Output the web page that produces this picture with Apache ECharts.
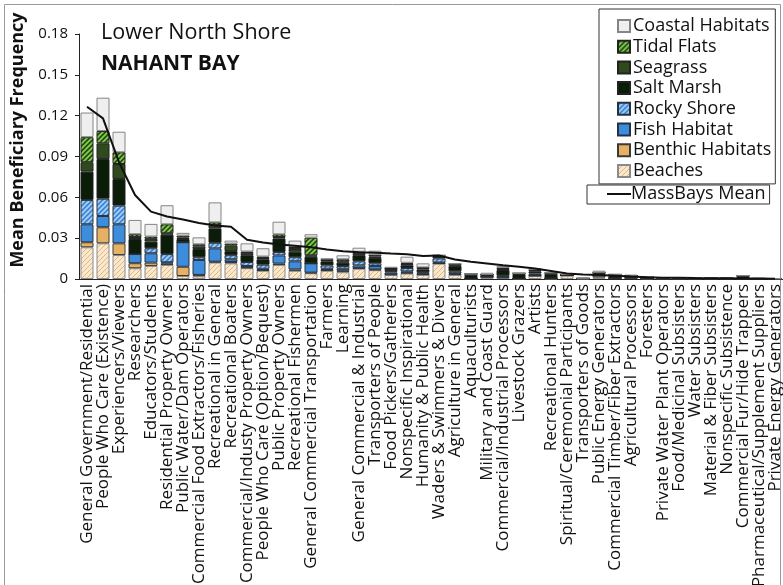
<!DOCTYPE html>
<html><head><meta charset="utf-8">
<script src="https://cdn.jsdelivr.net/npm/echarts@6/dist/echarts.min.js"></script>
<style>html,body{margin:0;padding:0;background:#fff}#c{width:783px;height:585px}</style>
</head><body><div id="c"></div>
<script>
const categories = ["General Government/Residential","People Who Care (Existence)","Experiencers/Viewers","Researchers","Educators/Students","Residential Property Owners","Public Water/Dam Operators","Commercial Food Extractors/Fisheries","Recreational in General","Recreational Boaters","Commercial/Industy Property Owners","People Who Care (Option/Bequest)","Public Property Owners","Recreational Fishermen","General Commercial Transportation","Farmers","Learning","General Commercial & Industrial","Transporters of People","Food Pickers/Gatherers","Nonspecific Inspirational","Humanity & Public Health","Waders & Swimmers & Divers","Agriculture in General","Aquaculturists","Military and Coast Guard","Commercial/Industrial Processors","Livestock Grazers","Artists","Recreational Hunters","Spiritual/Ceremonial Participants","Transporters of Goods","Public Energy Generators","Commercial Timber/Fiber Extractors","Agricultural Processors","Foresters","Private Water Plant Operators","Food/Medicinal Subsisters","Water Subsisters","Material & Fiber Subsisters","Nonspecific Subsistence","Commercial Fur/Hide Trappers","Pharmaceutical/Supplement Suppliers","Private Energy Generators"];

const beaches  = [0.0233,0.0262,0.0176,0.0079,0.0096,0.0103,0.0022,0.002,0.0121,0.0115,0.008,0.006,0.0103,0.006,0.0042,0.006,0.005,0.0075,0.0065,0.003,0.004,0.003,0.0112,0.003,0.0002,0.0015,0.0008,0.0003,0.0022,0.0004,0.0024,0.0004,0.001,0.0007,0.0007,0.0005,0.0001,0.0001,0.0001,0.0001,0.0001,0.0001,0.0001,0];
const benthic  = [0.0037,0.0118,0.0086,0.0037,0.0024,0.001,0.0068,0.001,0.0006,0.001,0.0005,0.0005,0.001,0.001,0.0005,0.0005,0.001,0.0005,0.0005,0.0003,0.0006,0.0005,0.0004,0.0005,0,0,0.0003,0,0.0003,0,0.0003,0,0.0015,0,0,0,0,0,0,0,0,0,0,0];
const fish     = [0.0132,0.0083,0.014,0.0068,0.0069,0.001,0.018,0.011,0.0098,0.002,0.001,0.001,0.006,0.006,0.0068,0.001,0.0015,0.002,0.0025,0.0015,0.001,0.0005,0.0005,0.0007,0,0.0003,0.001,0,0.0004,0,0.0002,0,0.0003,0,0.0003,0,0,0,0,0,0,0,0,0];
const rocky    = [0.0179,0.0127,0.0137,0,0.0037,0.006,0,0.002,0.0041,0.003,0.003,0.003,0.0025,0.003,0,0.0025,0.002,0.003,0.002,0.001,0.0025,0.001,0.003,0.0015,0,0.0003,0.0005,0,0.0012,0,0,0,0.0003,0,0.0005,0,0,0,0,0,0,0,0,0];
const saltMarsh= [0.0208,0.0292,0.0196,0.011,0.0049,0.0143,0.0024,0.006,0.0106,0.003,0.005,0.004,0.01,0.004,0.0049,0.003,0.0025,0.0045,0.004,0.0015,0.002,0.002,0.0015,0.004,0.003,0.001,0.004,0.0035,0.0015,0.0035,0,0,0.001,0.002,0.001,0.0012,0.0007,0.0007,0.0006,0.0006,0.0004,0.002,0.0003,0.0002];
const seagrass = [0.0069,0.0115,0.011,0.0015,0.002,0.001,0.001,0.002,0.0024,0.004,0.0015,0.001,0.001,0.002,0.001,0.001,0.001,0.0015,0.001,0.0005,0.001,0.001,0.0005,0.001,0.0005,0,0.001,0.0004,0.0008,0.0005,0,0,0.0005,0.0005,0,0,0,0,0,0,0,0.0004,0,0];
const tidal    = [0.0184,0.009,0.0086,0.002,0.0017,0.0066,0.0015,0.0015,0.002,0.0015,0.0012,0.001,0.002,0.0015,0.013,0.0005,0.0015,0.001,0.0013,0.0003,0.0008,0.0005,0.0002,0.0003,0,0,0.0005,0,0.0003,0.0002,0,0,0,0,0,0,0,0,0,0,0,0,0,0];
const coastal  = [0.0181,0.0245,0.0151,0.0105,0.0093,0.014,0.002,0.0051,0.0147,0.0022,0.006,0.0061,0.0093,0.0047,0.0025,0.0006,0.0029,0.003,0.003,0.0009,0.0045,0.003,0.0003,0.0005,0,0.0015,0.0015,0,0.0012,0,0.0008,0.0004,0.0015,0.0005,0.0005,0,0.0001,0.0001,0,0,0,0,0,0];
const massBaysMean = [0.1266,0.118,0.0858,0.0617,0.0495,0.0459,0.0437,0.0412,0.0393,0.0384,0.0288,0.0268,0.0254,0.0245,0.0233,0.0217,0.0204,0.0197,0.0193,0.0187,0.0182,0.0169,0.0173,0.0143,0.0126,0.0114,0.0101,0.009,0.0077,0.0059,0.0041,0.0033,0.0029,0.0024,0.0018,0.0013,0.001,0.0009,0.0007,0.0006,0.0005,0.0004,0.0003,0.0002];
const yTicks = [0, 0.03, 0.06, 0.09, 0.12, 0.15, 0.18];

function hatch(bg, fg, size, lw) {
  const c = document.createElement('canvas'); c.width = size; c.height = size;
  const g = c.getContext('2d');
  g.fillStyle = bg; g.fillRect(0, 0, size, size);
  g.strokeStyle = fg; g.lineWidth = lw;
  g.beginPath();
  g.moveTo(0, size); g.lineTo(size, 0);
  g.moveTo(-size / 2, size / 2); g.lineTo(size / 2, -size / 2);
  g.moveTo(size / 2, size * 1.5); g.lineTo(size * 1.5, size / 2);
  g.stroke();
  return { image: c, repeat: 'repeat' };
}

const FONT = 'Open Sans';
const stackDefs = [
  { name: 'Beaches', data: beaches, color: hatch('#fbe7cc', '#ddb98a', 5, 1), border: '#8a8a8a' },
  { name: 'Benthic Habitats', data: benthic, color: '#e6b163', border: '#3a3a3a' },
  { name: 'Fish Habitat', data: fish, color: '#3e8ddd', border: '#27313d' },
  { name: 'Rocky Shore', data: rocky, color: hatch('#3f87d6', '#a9d1f6', 5, 1.6), border: '#27313d' },
  { name: 'Salt Marsh', data: saltMarsh, color: '#0b1c08', border: '#222' },
  { name: 'Seagrass', data: seagrass, color: '#2f4a1d', border: '#222' },
  { name: 'Tidal Flats', data: tidal, color: hatch('#234a14', '#86cc4c', 5, 1.8), border: '#222' },
  { name: 'Coastal Habitats', data: coastal, color: '#efefef', border: '#858585' }
];

const series = stackDefs.map(d => ({
  name: d.name, type: 'bar', stack: 'hab', data: d.data,
  barWidth: 13,
  itemStyle: { color: d.color, borderColor: d.border, borderWidth: 1 },
  emphasis: { disabled: true }
}));
series.push({
  name: 'MassBays Mean', type: 'line', data: massBaysMean, symbol: 'none',
  lineStyle: { color: '#111', width: 2 }, itemStyle: { color: '#111' }, z: 10
});

const chart = echarts.init(document.getElementById('c'), null, { renderer: 'canvas' });
chart.setOption({
  animation: false,
  backgroundColor: '#fff',
  grid: { left: 79, right: 0, top: 34, bottom: 306, containLabel: false, outerBoundsMode: 'none' },
  xAxis: {
    type: 'category', data: categories,
    axisLine: { lineStyle: { color: '#222', width: 1 } },
    axisTick: { show: false },
    axisLabel: { rotate: 90, interval: 0, margin: 5, color: '#111', fontFamily: FONT, fontSize: 17, hideOverlap: false }
  },
  yAxis: {
    type: 'value', min: 0, max: 0.18, interval: 0.03,
    axisLine: { show: true, lineStyle: { color: '#222' } },
    axisTick: { show: true, length: 4, lineStyle: { color: '#222' } },
    splitLine: { show: false },
    axisLabel: { color: '#111', fontFamily: FONT, fontSize: 15, margin: 11,
      formatter: v => { const t = yTicks.find(x => Math.abs(x - v) < 1e-9); return t === 0 ? '0' : (t !== undefined ? t.toFixed(2) : ''); } }
  },
  legend: [
    {
      data: ['Coastal Habitats', 'Tidal Flats', 'Seagrass', 'Salt Marsh', 'Rocky Shore', 'Fish Habitat', 'Benthic Habitats', 'Beaches'],
      orient: 'vertical', left: 599, top: 9,
      icon: 'rect', itemWidth: 12, itemHeight: 12, itemGap: 2.7,
      borderColor: '#333', borderWidth: 1, padding: [8, 4, 4, 18],
      textStyle: { fontFamily: FONT, fontSize: 18, color: '#111', padding: [0, 0, 0, -2] },
      selectedMode: false
    },
    {
      data: ['MassBays Mean'],
      left: 587, top: 185, icon: 'rect', itemWidth: 24, itemHeight: 2,
      itemStyle: { color: '#111', borderWidth: 0 },
      borderColor: '#333', borderWidth: 1, padding: [0, 4, 1, 20],
      textStyle: { fontFamily: FONT, fontSize: 18, color: '#111', padding: [0, 0, 0, -5] },
      selectedMode: false
    }
  ],
  graphic: [
    { type: 'rect', shape: { x: 4.5, y: 4.5, width: 776, height: 640 }, style: { fill: 'none', stroke: '#999', lineWidth: 1 }, silent: true, z: -1 },
    { type: 'text', left: 101, top: 22, style: { text: 'Lower North Shore', font: '21.5px "Open Sans"', fill: '#111' } },
    { type: 'text', left: 101, top: 54, style: { text: 'NAHANT BAY', font: 'bold 21px "Open Sans"', fill: '#111' } },
    { type: 'text', x: 18, y: 140, rotation: Math.PI / 2,
      style: { text: 'Mean Beneficiary Frequency', font: 'bold 18px "Open Sans"', fill: '#111', align: 'center', verticalAlign: 'middle' } }
  ],
  series: series
});
</script>
</body></html>
